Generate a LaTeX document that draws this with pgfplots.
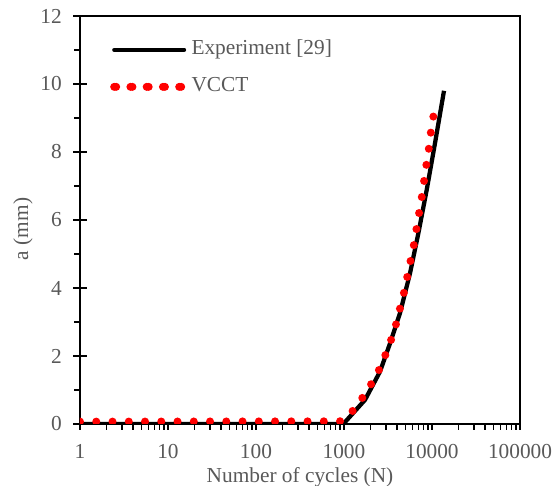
\documentclass[border=0pt]{standalone}
\usepackage{fontspec}
\setmainfont{Liberation Serif}
\usepackage{pgfplots}
\pgfplotsset{compat=1.18}
\definecolor{txtgray}{RGB}{89,89,89}
\definecolor{vred}{RGB}{255,0,0}

\begin{document}
\begin{tikzpicture}
\begin{axis}[
  scale only axis, width=330pt, height=306pt,
  xmode=log, xmin=1, xmax=100000, ymin=0, ymax=12,
  xtick={1,10,100,1000,10000,100000},
  xticklabels={1,10,100,1000,10000,100000},
  ytick={0,2,4,6,8,10,12}, minor y tick num=1,
  tick pos=left, tick align=outside,
  major tick length=4.5pt, minor tick length=4.5pt,
  tick style={black, line width=1pt},
  axis line style={black, line width=1.2pt},
  extra y ticks={0,2,4,6,8,10,12}, extra y tick labels={},
  extra y tick style={tick align=center, major tick length=10.5pt},
  font=\fontsize{16}{19}\selectfont,
  ticklabel style={font=\fontsize{16}{19}\selectfont, text=txtgray},
  /pgf/number format/assume math mode=true,
  xticklabel style={anchor=north, inner sep=0pt, yshift=-10.5pt},
  yticklabel style={anchor=east, inner sep=0pt, xshift=-9pt},
  xlabel={Number of cycles (N)},
  ylabel={a (mm)},
  label style={text=txtgray, font=\fontsize{16}{19}\selectfont, inner sep=0pt},
  xlabel style={at={(axis description cs:0.5,-0.1446)}, anchor=base},
  ylabel style={at={(axis description cs:-0.1295,0.478)}, anchor=center},
  legend style={at={(axis description cs:0.068,0.9422)}, anchor=north west,
    draw=none, fill=none, inner sep=0pt, row sep=12.75pt, column sep=2.5pt,
    font=\fontsize{16}{19}\selectfont, text=txtgray,
    nodes={inner sep=0pt, text height=11pt, text depth=4pt}},
  legend cell align=left,
]
\addplot[black, line width=3.2pt, line join=round,
  legend image code/.code={\draw[black, line width=3pt, line cap=round] (0pt,0pt) -- (52.5pt,0pt);}]
  coordinates {(1,0) (982,0) (1733,0.71) (2564,1.54) (3334,2.37) (4329,3.26) (5623,4.43) (7000,5.61) (8700,6.88) (10820,8.26) (13690,9.80)};
\addlegendentry{Experiment [29]}
\addplot[vred, line width=6pt, line cap=round, dash pattern=on 0pt off 12.19pt,
  legend image code/.code={\path (0pt,0pt) -- (52.5pt,0pt);
    \draw[vred, line width=6pt, line cap=round, dash pattern=on 0pt off 12.19pt] (1.5pt,0pt) -- (51pt,0pt);}]
  coordinates {(1,0.07) (900,0.08) (1233,0.36) (1589,0.74) (2011,1.15) (2478,1.57) (2923,2.0) (3395,2.44) (3872,2.90) (4299,3.37) (4769,3.83) (5197,4.29) (5665,4.76) (6194,5.24) (6632,5.71) (7117,6.19) (7638,6.66) (8110,7.13) (8616,7.61) (9183,8.08) (9669,8.55) (10360,9.04) (10400,9.10)};
\addlegendentry{VCCT}
\end{axis}
\pgfresetboundingbox
\path (-60pt,-46.5pt) rectangle (358.5pt,318pt);
\end{tikzpicture}
\end{document}
